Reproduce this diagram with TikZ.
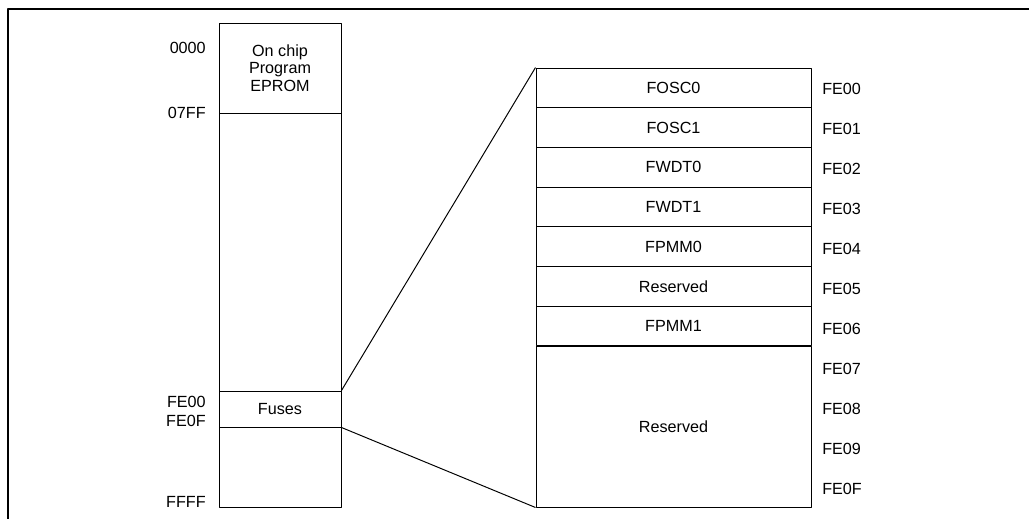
\documentclass[tikz,border=0pt]{standalone}
\usepackage{fontspec}
\setmainfont{Liberation Sans}
\usetikzlibrary{positioning}
\tikzset{
  cell/.style={
    draw, line width=0.7pt, minimum width=30.5mm, inner sep=0pt,
    align=center, font=\fontsize{11.5}{12.3}\selectfont
  },
  fuse/.style={
    draw, line width=0.7pt, minimum width=68.75mm, minimum height=9.925mm,
    inner sep=0pt, font=\fontsize{11.5}{12.3}\selectfont
  },
  addr/.style={inner sep=0pt, font=\fontsize{11.5}{12.3}\selectfont},
  zoomline/.style={line width=0.7pt},
  frame/.style={line width=1.3pt},
  every picture/.append style={line join=round}
}
\begin{document}
\begin{tikzpicture}[x=0.25mm,y=-0.25mm]
  \useasboundingbox (0,0) rectangle (1029,519);
  \draw[frame] (1029,9) -- (8,9) -- (8,519);

  % memory map
  \node[cell, minimum height=22.5mm] (eprom) at (280,68) {On chip\\Program\\EPROM};
  \node[cell, minimum height=69.5mm] (free) at (280,252) {};
  \node[cell, minimum height=9mm] (fuses) at (280,409) {Fuses};
  \node[cell, minimum height=20mm] (tail) at (280,467) {};

  \node[addr, anchor=east] (a0000) at (206,48) {0000};
  \node[addr, anchor=east] (a07ff) at (206,113) {07FF};
  \node[addr, anchor=east] (afe00) at (206,402) {FE00};
  \node[addr, anchor=east] (afe0f) at (206,421) {FE0F};
  \node[addr, anchor=east] (affff) at (206,502) {FFFF};

  % fuse block
  \foreach \name [count=\i from 0] in {FOSC0,FOSC1,FWDT0,FWDT1,FPMM0,Reserved,FPMM1}
    \node[fuse] (f\i) at (673.5,{68+39.7*(\i+0.5)}) {\name};
  \node[fuse, minimum height=40.25mm] (frsv) at (673.5,426.5) {Reserved};

  \foreach \a [count=\i from 0] in {FE00,FE01,FE02,FE03,FE04,FE05,FE06,FE07,FE08,FE09,FE0F}
    \node[addr, anchor=west] (r\i) at (822,{89+40*\i}) {\a};

  \draw[zoomline] (fuses.north east) -- (f0.north west);
  \draw[zoomline] (fuses.south east) -- (frsv.south west);
\end{tikzpicture}
\end{document}
